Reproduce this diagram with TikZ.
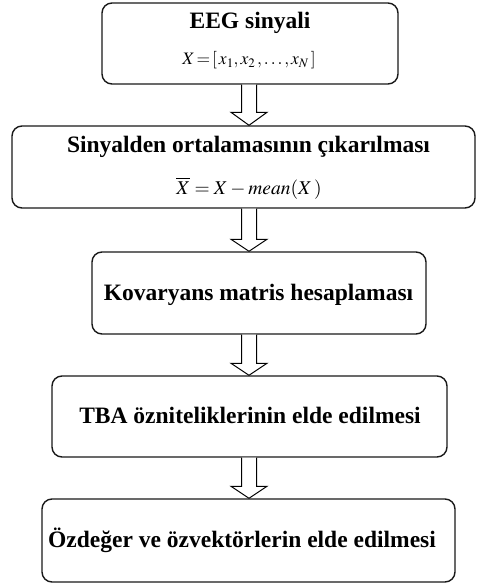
\documentclass[tikz,border=0pt]{standalone}
\usepackage{mathptmx}
\usepackage{fontspec}
\setmainfont{Liberation Serif}
\usetikzlibrary{calc}

\tikzset{
  flowbox/.style={draw=black!90, line width=1.4pt, rounded corners=10pt,
    inner sep=0pt, fill=white},
  titletext/.style={anchor=base, inner sep=0pt, font=\fontsize{23.5}{27}\selectfont\bfseries},
  eqtext/.style={anchor=base, inner sep=0pt},
  blockarrow/.style={draw=black, line width=1pt, line join=miter, fill=white},
}

% hollow block arrow from the bottom of #1 to the top of #2, head length #3
\newcommand{\blockarr}[3]{%
  \draw[blockarrow] let \p1=(#1.south), \p2=(#2.north), \p3=(axis) in
    (\x3-7.5pt,\y1) -- (\x3-7.5pt,\y2+#3) -- (\x3-18pt,\y2+#3) -- (\x3,\y2)
    -- (\x3+18pt,\y2+#3) -- (\x3+7.5pt,\y2+#3) -- (\x3+7.5pt,\y1);}

\begin{document}
\begin{tikzpicture}[x=1pt, y=-1pt]
  \useasboundingbox (0,0) rectangle (480,585);
  \coordinate (axis) at (249,0);

  % boxes
  \node[flowbox, minimum width=296, minimum height=81] (b1) at (250,43.5) {};
  \node[flowbox, minimum width=463, minimum height=82] (b2) at (243.5,167) {};
  \node[flowbox, minimum width=334, minimum height=82] (b3) at (259,293) {};
  \node[flowbox, minimum width=395, minimum height=81] (b4) at (249.5,416.5) {};
  \node[flowbox, minimum width=413, minimum height=83] (b5) at (248.5,540.5) {};

  % texts
  \node[titletext] (t1) at (250,29) {EEG sinyali};
  \node[eqtext, font=\fontsize{17.5}{20}\selectfont] (e1) at (249,65)
    {$X \,{=}\,[\,x_1 , x_2 \,, \ldots , x_N\,]$};
  \node[titletext] (t2) at (248.5,153) {Sinyalden ortalamasının çıkarılması};
  \node[eqtext, font=\fontsize{19.5}{22}\selectfont] (e2) at (249,194)
    {$\overline{X} = X - \mathit{mean}(X\,)$};
  \node[titletext] (t3) at (258.5,300) {Kovaryans matris hesaplaması};
  \node[titletext] (t4) at (250,423) {TBA özniteliklerinin elde edilmesi};
  \node[titletext] (t5) at (242,547) {Özdeğer ve özvektörlerin elde edilmesi};

  % connectors
  \blockarr{b1}{b2}{13pt}
  \blockarr{b2}{b3}{12pt}
  \blockarr{b3}{b4}{12pt}
  \blockarr{b4}{b5}{12pt}
\end{tikzpicture}
\end{document}
